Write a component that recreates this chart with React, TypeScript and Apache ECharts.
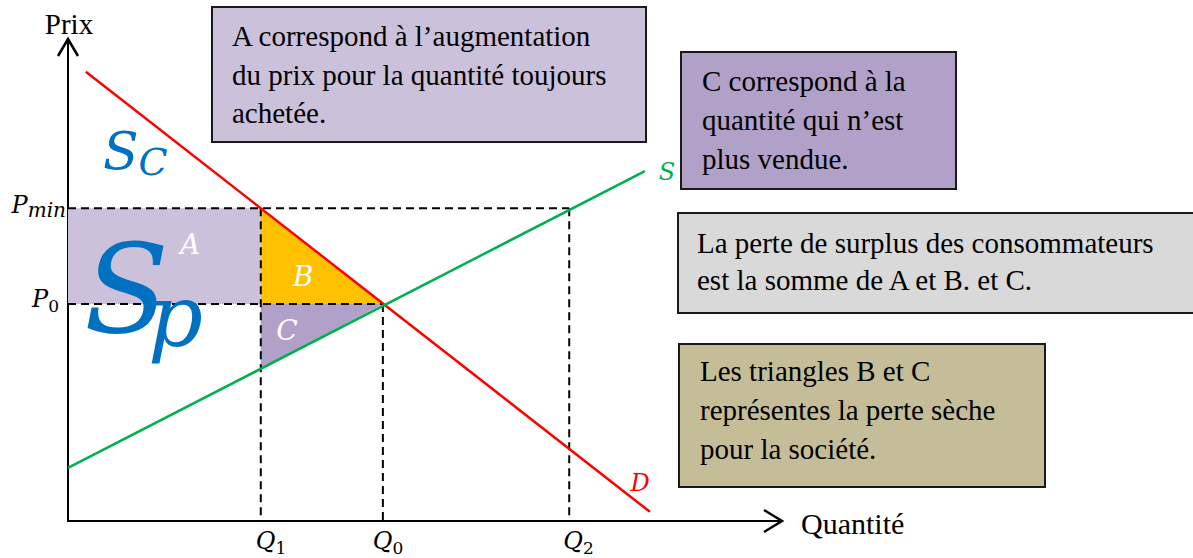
import React, { useEffect, useRef } from "react";
import * as echarts from "echarts";

// Key values (axis units 0..100)
const Q1 = 27.0;
const Q0 = 44.1;
const Q2 = 70.2;
const P_MIN = 64.9;
const P0 = 45.0;
const S_AT_Q1 = 31.5;

const demand = [[2.5, 93.2], [81.5, 1.9]];
const supply = [[0, 11.0], [80.8, 72.6]];

const areaA = [[0, P_MIN], [Q1, P_MIN], [Q1, P0], [0, P0]];
const triB = [[Q1, P_MIN], [Q1, P0], [Q0, P0]];
const triC = [[Q1, P0], [Q0, P0], [Q1, S_AT_Q1]];
const areas = [areaA, triB, triC];
const areaColors = ["#CCC1DA", "#FFC000", "#B1A0C7"];

const guides = [
  [[0, P_MIN], [Q2, P_MIN]],
  [[0, P0], [Q0, P0]],
  [[Q1, P_MIN], [Q1, 0]],
  [[Q0, P0], [Q0, 0]],
  [[Q2, P_MIN], [Q2, 0]],
];

const boxA = ["A correspond à l’augmentation", "du prix pour la quantité toujours", "achetée."];
const boxC = ["C correspond à la", "quantité qui n’est", "plus vendue."];
const boxLoss = ["La perte de surplus des consommateurs", "est la somme de A et B. et C."];
const boxDead = ["Les triangles B et C", "représentes la perte sèche", "pour la société."];

const SERIF = '"Liberation Serif", "Times New Roman", serif';
const MATH = '"DejaVu Serif", serif';

function subLabel(x: number, y: number, main: string, sub: string, color: string, align: string, mSize: number, sSize: number, mLH: number, sLH: number, subItalic: boolean, mWidth?: number) {
  const m: any = { fontFamily: MATH, fontStyle: "italic", fontSize: mSize, lineHeight: mLH, fill: color };
  if (mWidth) m.width = mWidth;
  return {
    type: "text",
    x,
    y,
    z: 20,
    style: {
      text: `{m|${main}}{s|${sub}}`,
      align,
      verticalAlign: "middle",
      rich: {
        m,
        s: { fontFamily: MATH, fontStyle: subItalic ? "italic" : "normal", fontSize: sSize, lineHeight: sLH, verticalAlign: "bottom", fill: color },
      },
    },
  };
}

function textBox(x: number, y: number, w: number, h: number, fill: string, lines: string[], tx: number, ty: number, lh: number) {
  return [
    { type: "rect", z: 10, shape: { x, y, width: w, height: h }, style: { fill, stroke: "#1a1a1a", lineWidth: 2 } },
    {
      type: "text",
      z: 11,
      x: tx,
      y: ty,
      style: { text: lines.join("\n"), fontFamily: SERIF, fontSize: 29, lineHeight: lh, fill: "#000", align: "left", verticalAlign: "top" },
    },
  ];
}

export default function App() {
  const ref = useRef<HTMLDivElement>(null);
  useEffect(() => {
    if (!ref.current) return;
    const chart = echarts.init(ref.current, null, { renderer: "svg" });
    const axisCommon = {
      type: "value",
      min: 0,
      max: 100,
      axisLine: { show: true, lineStyle: { color: "#000", width: 2 } },
      axisTick: { show: false },
      axisLabel: { show: false },
      splitLine: { show: false },
    };
    const series: any[] = [
      {
        type: "custom",
        coordinateSystem: "cartesian2d",
        silent: true,
        z: 1,
        data: areas.map((a, i) => [a[0][0], a[0][1], i]),
        encode: { x: 0, y: 1 },
        renderItem: (params: any, api: any) => {
          const i = params.dataIndex;
          return {
            type: "polygon",
            shape: { points: areas[i].map((p) => api.coord(p)) },
            style: { fill: areaColors[i] },
          };
        },
      },
      ...guides.map((g) => ({
        type: "line",
        data: g,
        symbol: "none",
        silent: true,
        z: 2,
        lineStyle: { color: "#000", width: 2, type: [8, 5] },
      })),
      { type: "line", data: demand, symbol: "none", silent: true, z: 3, lineStyle: { color: "#FF0000", width: 2.5 } },
      { type: "line", data: supply, symbol: "none", silent: true, z: 3, lineStyle: { color: "#00B050", width: 2.5 } },
    ];
    chart.setOption({
      animation: false,
      grid: { left: 68, top: 39, right: 411, bottom: 37 },
      xAxis: axisCommon,
      yAxis: axisCommon,
      series,
    });
    const px = (p: number[]) => chart.convertToPixel({ gridIndex: 0 }, p) as number[];
    const yTip = px([0, 100]);
    const xTip = px([100, 0]);
    const pMin = px([0, P_MIN]);
    const p0 = px([0, P0]);
    const q1 = px([Q1, 0]);
    const q0 = px([Q0, 0]);
    const q2 = px([Q2, 0]);

    const graphic: any[] = [
      { type: "polyline", z: 5, shape: { points: [[yTip[0] - 10, yTip[1] + 17], yTip, [yTip[0] + 10, yTip[1] + 17]] }, style: { stroke: "#000", lineWidth: 2.5, fill: "none" } },
      { type: "polyline", z: 5, shape: { points: [[xTip[0] - 18, xTip[1] - 11], xTip, [xTip[0] - 18, xTip[1] + 11]] }, style: { stroke: "#000", lineWidth: 2.5, fill: "none" } },
      { type: "text", x: 69, y: 24, style: { text: "Prix", fontFamily: SERIF, fontSize: 29, fill: "#000", align: "center", verticalAlign: "middle" } },
      { type: "text", x: 801, y: 523, style: { text: "Quantité", fontFamily: SERIF, fontSize: 30, fill: "#000", align: "left", verticalAlign: "middle" } },
      subLabel(66, pMin[1] - 3, "P", "min", "#000", "right", 24, 20, 30, 6, true),
      subLabel(59, p0[1] - 5, "P", "0", "#000", "right", 24, 17, 30, 18, false),
      subLabel(q1[0] - 5, 541, "Q", "1", "#000", "left", 24, 17, 30, 20, false),
      subLabel(q0[0] - 10, 541, "Q", "0", "#000", "left", 24, 17, 30, 20, false),
      subLabel(q2[0] - 6, 541, "Q", "2", "#000", "left", 24, 17, 30, 20, false),
      { type: "text", x: 667, y: 172, style: { text: "S", fontFamily: MATH, fontStyle: "italic", fontSize: 24, fill: "#00B050", align: "center", verticalAlign: "middle" } },
      { type: "text", x: 640, y: 483, style: { text: "D", fontFamily: MATH, fontStyle: "italic", fontSize: 24, fill: "#FF0000", align: "center", verticalAlign: "middle" } },
      { type: "text", x: 190, y: 244, z: 6, style: { text: "A", fontFamily: MATH, fontStyle: "italic", fontSize: 28, fill: "#fff", align: "center", verticalAlign: "middle" } },
      { type: "text", x: 303, y: 276, z: 6, style: { text: "B", fontFamily: MATH, fontStyle: "italic", fontSize: 28, fill: "#fff", align: "center", verticalAlign: "middle" } },
      { type: "text", x: 287, y: 330, z: 6, style: { text: "C", fontFamily: MATH, fontStyle: "italic", fontSize: 28, fill: "#fff", align: "center", verticalAlign: "middle" } },
      subLabel(103, 151, "S", "C", "#0070C0", "left", 52, 38, 60, 24, true),
      subLabel(84, 289, "S", "p", "#0070C0", "left", 124, 86, 140, 72, true, 64),
      ...textBox(212, 7, 434, 135, "#CCC1DA", boxA, 232, 17, 38.5),
      ...textBox(681, 52, 275, 137, "#B1A0C7", boxC, 702, 61.5, 39),
      ...textBox(678, 213, 540, 100, "#D9D9D9", boxLoss, 697, 224.5, 37),
      ...textBox(679, 344, 366, 143, "#C4BD97", boxDead, 700, 351.5, 39),
    ];
    chart.setOption({ graphic });
    return () => chart.dispose();
  }, []);
  return <div ref={ref} style={{ position: "absolute", left: 0, top: 0, width: 1193, height: 558 }} />;
}
